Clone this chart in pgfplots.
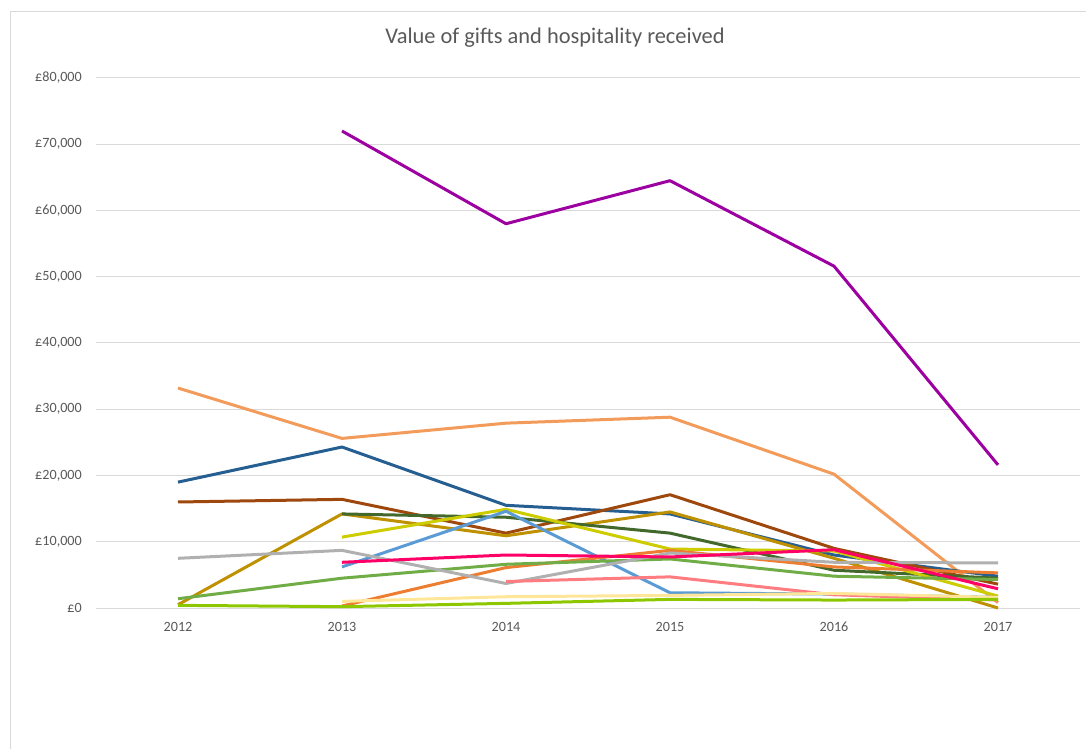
\documentclass[border=0pt]{standalone}
\usepackage{fontspec}
\setmainfont{Carlito}
\usepackage{pgfplots}
\pgfplotsset{compat=1.18}
\definecolor{tickgray}{HTML}{595959}
\definecolor{gridgray}{HTML}{D9D9D9}
\definecolor{cpurple}{HTML}{9C00A0}
\definecolor{clorange}{HTML}{F29B5B}
\definecolor{cdblue}{HTML}{255E91}
\definecolor{cbrown}{HTML}{9E480E}
\definecolor{cgold}{HTML}{BF9000}
\definecolor{cdgreen}{HTML}{43682B}
\definecolor{cyellow}{HTML}{CCCC00}
\definecolor{clblue}{HTML}{5B9BD5}
\definecolor{corange}{HTML}{ED7D31}
\definecolor{cgreen}{HTML}{70AD47}
\definecolor{cgray}{HTML}{B0B0B0}
\definecolor{cpink}{HTML}{FF0066}
\definecolor{csalmon}{HTML}{FF7C80}
\definecolor{clyellow}{HTML}{FFE699}
\definecolor{clime}{HTML}{8DC700}
\begin{document}
\begin{tikzpicture}
\begin{axis}[
  at={(0,0)}, anchor=south west,
  width=984bp, height=530bp, scale only axis,
  xmin=-0.5, xmax=5.5, ymin=0, ymax=80000,
  xtick={0,1,2,3,4,5}, xticklabels={2012,2013,2014,2015,2016,2017},
  ytick={0,10000,20000,30000,40000,50000,60000,70000,80000},
  yticklabels={£0,{£10,000},{£20,000},{£30,000},{£40,000},{£50,000},{£60,000},{£70,000},{£80,000}},
  scaled y ticks=false,
  ymajorgrids, grid style={draw=gridgray, line width=1bp},
  axis line style={draw=none}, major tick length=0pt,
  ticklabel style={font=\fontsize{14.2}{16}\selectfont, text=tickgray},
  yticklabel style={anchor=east, inner sep=0pt, xshift=-14bp},
  xticklabel style={anchor=north, inner sep=0pt, yshift=-14bp},
  every axis plot/.append style={line width=3bp, mark=none, line join=round},
  clip=false,
]
\addplot[cpurple] coordinates {(1,72000)(2,58000)(3,64500)(4,51600)(5,21600)};
\addplot[clorange] coordinates {(0,33200)(1,25600)(2,27900)(3,28800)(4,20200)(5,800)};
\addplot[cdblue] coordinates {(0,19000)(1,24300)(2,15500)(3,14200)(4,8000)(5,4800)};
\addplot[cbrown] coordinates {(0,16000)(1,16400)(2,11300)(3,17100)(4,9000)(5,3600)};
\addplot[cgold] coordinates {(0,500)(1,14200)(2,10900)(3,14500)(4,7500)(5,0)};
\addplot[cdgreen] coordinates {(1,14200)(2,13700)(3,11300)(4,5700)(5,4500)};
\addplot[cyellow] coordinates {(1,10700)(2,14900)(3,8900)(4,8600)(5,1800)};
\addplot[clblue] coordinates {(1,6200)(2,14600)(3,2300)(4,2100)(5,1600)};
\addplot[corange] coordinates {(1,300)(2,6100)(3,8700)(4,6200)(5,5300)};
\addplot[cgreen] coordinates {(0,1400)(1,4500)(2,6600)(3,7400)(4,4800)(5,4300)};
\addplot[cgray] coordinates {(0,7500)(1,8700)(2,3700)(3,8300)(4,6900)(5,6800)};
\addplot[cpink] coordinates {(1,6900)(2,8000)(3,7700)(4,8800)(5,2900)};
\addplot[csalmon] coordinates {(2,4000)(3,4700)(4,2000)(5,1200)};
\addplot[clyellow] coordinates {(1,1000)(2,1700)(3,1900)(4,2200)(5,1600)};
\addplot[clime] coordinates {(0,400)(1,200)(2,700)(3,1300)(4,1200)(5,1300)};
\end{axis}
\path[use as bounding box] (-96bp,-141bp) rectangle (990bp,608bp);
\draw[gridgray, line width=1bp] (-85bp,-141bp) -- (-85bp,596bp) -- (990bp,596bp);
\node[text=tickgray, font=\fontsize{22.5}{26}\selectfont] at (459bp,570bp) {Value of gifts and hospitality received};
\end{tikzpicture}
\end{document}
